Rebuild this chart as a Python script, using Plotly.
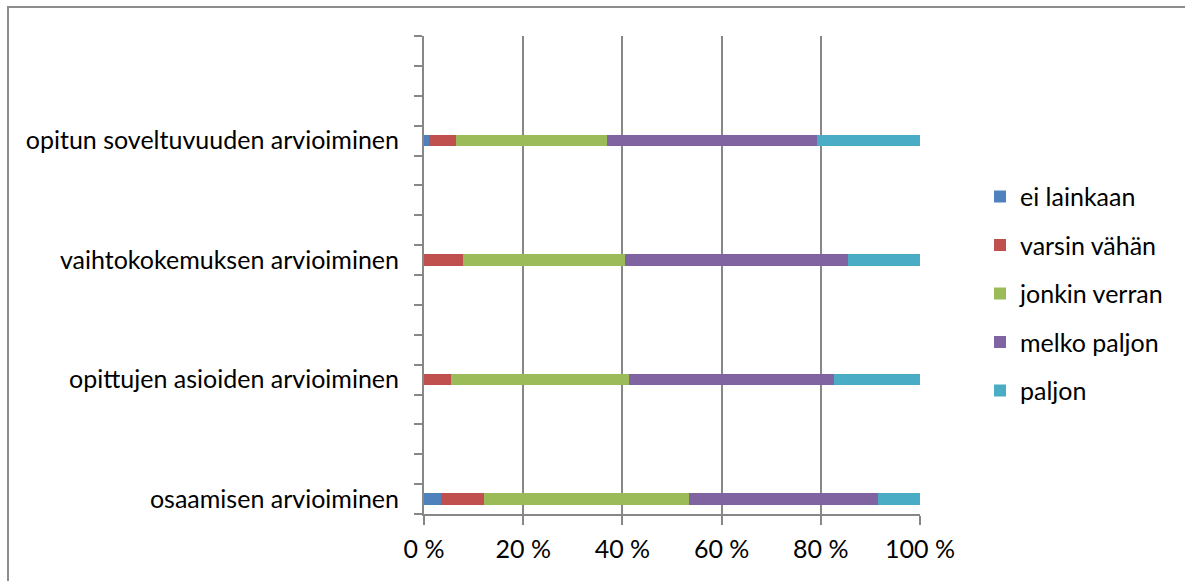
import plotly.graph_objects as go

# Rating categories, bottom to top
categories = [
    "osaamisen arvioiminen",
    "opittujen asioiden arvioiminen",
    "vaihtokokemuksen arvioiminen",
    "opitun soveltuvuuden arvioiminen",
]

# Share of answers per category (%)
ei_lainkaan = [3.4, 0.0, 0.0, 1.0]
varsin_vahan = [8.6, 5.4, 7.9, 5.5]
jonkin_verran = [41.4, 36.0, 32.7, 30.4]
melko_paljon = [38.1, 41.2, 44.8, 42.3]
paljon = [8.5, 17.4, 14.6, 20.8]

series_names = ["ei lainkaan", "varsin vähän", "jonkin verran", "melko paljon", "paljon"]
series_values = [ei_lainkaan, varsin_vahan, jonkin_verran, melko_paljon, paljon]
series_colors = ["#4F81BD", "#C0504D", "#9BBB59", "#8064A2", "#4BACC6"]

x_ticks = [0, 20, 40, 60, 80, 100]
x_ticktext = ["0 %", "20 %", "40 %", "60 %", "80 %", "100 %"]

# Each category sits in every 4th slot of a 16-slot axis
SLOT_STEP = 4
N_SLOTS = 16
y_pos = [i * SLOT_STEP for i in range(len(categories))]

FONT = "Lato"
FSIZE = 25
GRAY = "#878787"
W, H = 1185, 581
ML, MR, MT, MB = 424, 265, 36, 67
pw = W - ML - MR
ph = H - MT - MB

fig = go.Figure()
for name, vals, col in zip(series_names, series_values, series_colors):
    fig.add_trace(go.Bar(
        x=vals, y=y_pos, name=name, orientation="h",
        marker=dict(color=col, line=dict(width=0)),
        width=0.39, legendgroup=name,
    ))

# Outer frame (top and left edges visible)
fx0 = (8 - ML) / pw
fy1 = (H - MB - 7) / ph
fig.add_shape(type="rect", xref="paper", yref="paper",
              x0=fx0, x1=3, y0=-3, y1=fy1,
              line=dict(color="#8C8C8C", width=2), fillcolor="rgba(0,0,0,0)")

fig.update_layout(
    width=W, height=H,
    margin=dict(l=ML, r=MR, t=MT, b=MB, pad=0),
    barmode="stack",
    paper_bgcolor="white", plot_bgcolor="white",
    font=dict(family=FONT, size=FSIZE, color="#000000"),
    showlegend=True,
    legend=dict(
        x=1.121, xanchor="left", y=0.461, yanchor="middle",
        traceorder="grouped", tracegroupgap=13,
        font=dict(family=FONT, size=FSIZE, color="#000000"),
        bgcolor="rgba(0,0,0,0)", itemwidth=30,
    ),
    xaxis=dict(
        range=[0, 100], tickvals=x_ticks, ticktext=x_ticktext,
        showgrid=True, gridcolor=GRAY, gridwidth=1.5,
        zeroline=False, showline=True, linecolor=GRAY, linewidth=2,
        ticks="outside", ticklen=9, tickcolor=GRAY, tickwidth=2,
        ticklabelstandoff=3,
        tickfont=dict(family=FONT, size=FSIZE),
        fixedrange=True,
    ),
    yaxis=dict(
        range=[-0.5, N_SLOTS - 0.5], tickvals=y_pos, ticktext=categories,
        showgrid=False, zeroline=False,
        showline=True, linecolor=GRAY, linewidth=2,
        ticks="", ticklabelstandoff=18,
        minor=dict(ticks="outside", tick0=-0.5, dtick=1, ticklen=8,
                   tickcolor=GRAY, tickwidth=2, showgrid=False),
        tickfont=dict(family=FONT, size=FSIZE),
        fixedrange=True,
    ),
)

fig.write_html("out.html")
